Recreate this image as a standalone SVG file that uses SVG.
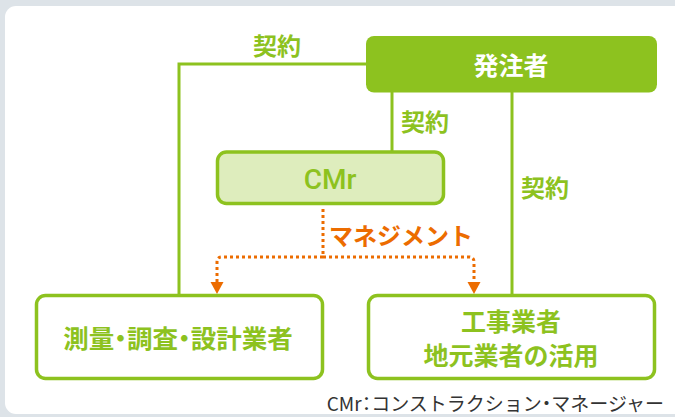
<svg xmlns="http://www.w3.org/2000/svg" width="675" height="417" viewBox="0 0 675 417">
<style>
.jp{font-family:"Noto Sans CJK JP","Noto Sans",sans-serif;}
.palt{font-feature-settings:"palt" 1;}
.lbl{font-size:24px;font-weight:bold;fill:#8dc21f;}
.box{fill:#fff;stroke:#8dc21f;stroke-width:3.5;}
.ln{fill:none;stroke:#8dc21f;stroke-width:3;}
.dot{fill:none;stroke:#ec6c00;stroke-width:3;stroke-dasharray:3 3;}
</style>
<rect x="0" y="0" width="675" height="417" fill="#dde3e8"/>
<rect x="5" y="6" width="700" height="408" rx="11" fill="#fff"/>
<g id="connectors">
<path class="ln" d="M366,64 H179 V295"/>
<path class="ln" d="M392,92 V151"/>
<path class="ln" d="M512,92 V295"/>
<path class="dot" d="M323,209 V257"/>
<path class="dot" d="M323,257 H222 Q217,257 217,262 V283"/>
<path class="dot" d="M323,257 H469 Q474,257 474,262 V283"/>
<path d="M210.5,282 L223.5,282 L217,294 Z" fill="#ec6c00"/>
<path d="M467.5,282 L480.5,282 L474,294 Z" fill="#ec6c00"/>
<text class="jp lbl" x="277" y="55" text-anchor="middle">契約</text>
<text class="jp lbl" x="425" y="131" text-anchor="middle">契約</text>
<text class="jp lbl" x="545" y="197" text-anchor="middle">契約</text>
<text class="jp" x="401" y="245" font-size="24" font-weight="bold" fill="#ec6c00" text-anchor="middle">マネジメント</text>
</g>
<g id="owner">
<rect x="366" y="36" width="291" height="56.5" rx="8" fill="#8dc21f"/>
<text class="jp" x="511" y="75" font-size="25" font-weight="bold" fill="#fff" text-anchor="middle">発注者</text>
</g>
<g id="cmr">
<rect x="217.5" y="152" width="226" height="51.5" rx="9" fill="#deedbd" stroke="#8dc21f" stroke-width="3.5"/>
<text x="330" y="189" font-family="Roboto, 'Liberation Sans', sans-serif" font-size="28" font-weight="500" fill="#8dc21f" text-anchor="middle">CMr</text>
</g>
<g id="survey">
<rect class="box" x="36.5" y="295.5" width="286" height="83" rx="9"/>
<text class="jp palt" x="178" y="348" font-size="25.5" font-weight="bold" fill="#8dc21f" text-anchor="middle">測量・調査・設計業者</text>
</g>
<g id="construction">
<rect class="box" x="368.5" y="295.5" width="286" height="83" rx="9"/>
<text class="jp" x="511" y="331" font-size="25" font-weight="bold" fill="#8dc21f" text-anchor="middle">工事業者</text>
<text class="jp" x="511" y="365" font-size="25" font-weight="bold" fill="#8dc21f" text-anchor="middle">地元業者の活用</text>
</g>
<text x="664" y="411" font-family="'Noto Sans CJK JP', sans-serif" font-size="19" fill="#333" text-anchor="end">CMr<tspan class="palt">：</tspan>コンストラクション<tspan class="palt">・</tspan>マネージャー</text>
</svg>
